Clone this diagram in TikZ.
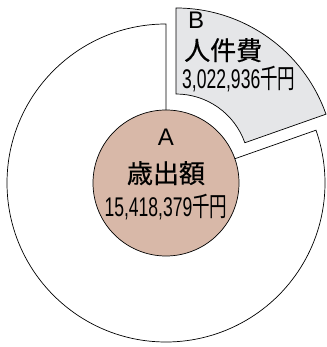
\documentclass[tikz,border=0pt]{standalone}
\usepackage{fontspec}
\setmainfont{Liberation Sans}
\newfontfamily\cjk{Noto Sans CJK JP}[FakeBold=0.6]
\newfontfamily\cjknum{Noto Sans CJK JP}
\definecolor{pinkfill}{HTML}{D8B8A8}
\definecolor{greyfill}{HTML}{E5E6E8}
\begin{document}
\begin{tikzpicture}[x=1pt,y=1pt,
  edge/.style={draw=black,line width=0.7pt,line join=miter},
  latin/.style={inner sep=0pt,anchor=base,font=\fontsize{24}{24}\selectfont},
  kanji/.style={inner sep=0pt,anchor=base,font=\cjk\fontsize{26}{26}\selectfont},
  amount/.style={inner sep=0pt,anchor=base,font=\fontsize{27}{27}\selectfont}]
\useasboundingbox (0,0) rectangle (326,347);
\coordinate (C) at (166,164);
% white remainder of pie
\path[edge,fill=white] (C) -- ++(90:159) arc[start angle=90,end angle=379.4,radius=159] -- cycle;
% exploded slice B
\begin{scope}[shift={(176,180)}]
\path[edge,fill=greyfill] (90:73) -- (90:159) arc[start angle=90,end angle=19.4,radius=159] -- (19.4:73) arc[start angle=19.4,end angle=90,radius=73] -- cycle;
\end{scope}
% centre circle A
\node[edge,fill=pinkfill,circle,minimum size=146pt,inner sep=0pt] (A) at (C) {};
\node[latin] (Al) at (166,201) {A};
\node[kanji] (At) at (166,164) {歳出額};
\node[amount] (An) at (166,130.5) {\scalebox{0.65}[1]{15,418,379{\cjknum 千円}}};
\node[latin,anchor=base west] (Bl) at (188,318) {B};
\node[kanji,anchor=base west] (Bt) at (184,287) {人件費};
\node[amount,anchor=base west] (Bn) at (182,258) {\scalebox{0.65}[1]{3,022,936{\cjknum 千円}}};
\end{tikzpicture}
\end{document}
